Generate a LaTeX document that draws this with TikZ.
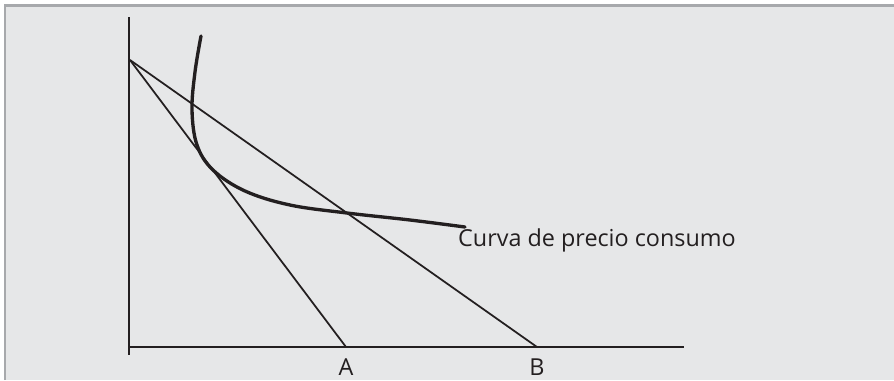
\documentclass[tikz,border=0pt]{standalone}
\usepackage{fontspec}
\setmainfont{Open Sans}
\usepackage{xcolor}
\definecolor{panelgray}{HTML}{E6E7E8}
\definecolor{framegray}{HTML}{A7A9AC}
\definecolor{ink}{HTML}{231F20}

\begin{document}
\begin{tikzpicture}[x=0.02cm, y=-0.02cm, font=\fontsize{13.3}{15}\selectfont]

		% Fix the picture size and draw the gray panel with its frame
		\useasboundingbox (0,0) rectangle (894,380);
		\fill[panelgray] (5,5.5) rectangle (894,380);
		\draw[framegray, line width=1.2pt] (5,380) -- (5,5.5) -- (894,5.5);

		% Points of the diagram
		\coordinate (O) at (129,347);
		\coordinate (Ytop) at (129,17);
		\coordinate (Ybot) at (129,355);
		\coordinate (Xend) at (684,347);
		\coordinate (I) at (130,60); % common intercept of both budget lines

		% Axes
		\draw[ink, line width=1.1pt] (Ytop) -- (Ybot);
		\draw[ink, line width=1.1pt] (O) -- (Xend);

		% Budget lines with their labels
		\node[ink, anchor=base] (A) at (346,375) {A};
		\node[ink, anchor=base] (B) at (537,375) {B};
		\coordinate (Afoot) at (346,347);
		\coordinate (Bfoot) at (537,347);
		\draw[ink, line width=1pt] (I) -- (Afoot);
		\draw[ink, line width=1pt] (I) -- (Bfoot);

		% Price consumption curve
		\draw[ink, line width=1.9pt, line cap=round] plot[smooth, tension=0.6] coordinates
			{(201,36) (195,72) (192,110) (197,145) (213,170) (245,191) (290,205) (347,213) (410,220) (465,227)};
		\node[ink, anchor=base west] (curve) at (452,246) {Curva de precio consumo};

\end{tikzpicture}
\end{document}
